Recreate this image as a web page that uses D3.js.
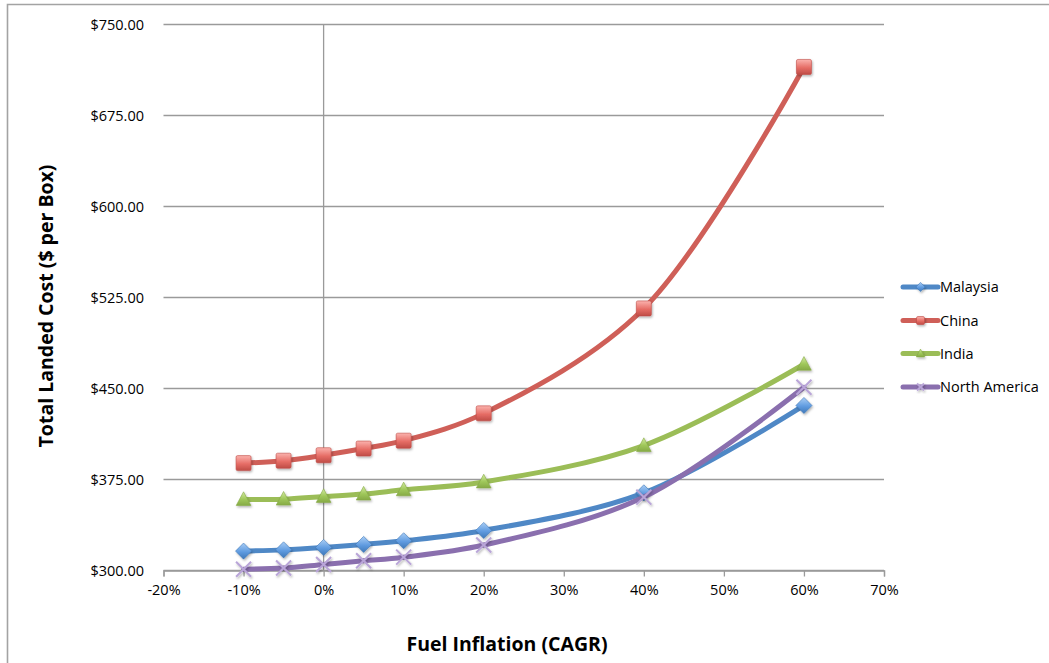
<!DOCTYPE html>
<html>
<head>
<meta charset="utf-8">
<script src="https://cdn.jsdelivr.net/npm/d3@7/dist/d3.min.js"></script>
<style>
  html, body { margin: 0; padding: 0; background: #fff; }
  svg { display: block; }
  text { font-family: "Open Sans", "DejaVu Sans", sans-serif; fill: #000; }
</style>
</head>
<body>
<svg id="chart" width="1049" height="663"></svg>
<script>
// Fuel inflation scenarios (CAGR, %)
const inflation = [-10, -5, 0, 5, 10, 20, 40, 60];

// Total landed cost per box for each sourcing region
const malaysia     = [316, 317, 319, 321.5, 324.5, 333, 364, 436];
const china        = [388.5, 390.5, 395, 400.5, 407, 429.5, 516, 715];
const india        = [358.5, 358.8, 361, 363, 366.5, 373, 403, 470];
const northAmerica = [301, 302, 305, 308, 311, 321, 360.5, 451];

const seriesNames = ["Malaysia", "China", "India", "North America"];
const xTicks = [-20, -10, 0, 10, 20, 30, 40, 50, 60, 70];
const yTicks = [300, 375, 450, 525, 600, 675, 750];

const styles = {
  "Malaysia":      { line: "#4f88c6", fill: "#5f9be0", hi: "#a9cdf5", edge: "#3f78b8", marker: "diamond" },
  "China":         { line: "#cf5f58", fill: "#e66d66", hi: "#fbb3ae", edge: "#bf4c46", marker: "square" },
  "India":         { line: "#9bbd57", fill: "#9fc75a", hi: "#d2ea9f", edge: "#86aa46", marker: "triangle" },
  "North America": { line: "#8a6fae", fill: "#b9a5d8", hi: "#d8cbee", edge: "#a38cc8", marker: "x" }
};

const values = { "Malaysia": malaysia, "China": china, "India": india, "North America": northAmerica };

const svg = d3.select("#chart");
const defs = svg.append("defs");

// soft shadow under markers
const shadow = defs.append("filter").attr("id", "mshadow")
  .attr("x", "-50%").attr("y", "-50%").attr("width", "200%").attr("height", "200%");
shadow.append("feDropShadow").attr("dx", 1).attr("dy", 1.5).attr("stdDeviation", 1.2)
  .attr("flood-color", "#000").attr("flood-opacity", 0.3);

seriesNames.forEach((name, i) => {
  const s = styles[name];
  const g = defs.append("linearGradient").attr("id", "grad" + i)
    .attr("x1", 0).attr("y1", 0).attr("x2", 0).attr("y2", 1);
  g.append("stop").attr("offset", "0%").attr("stop-color", s.hi);
  g.append("stop").attr("offset", "55%").attr("stop-color", s.fill);
  g.append("stop").attr("offset", "100%").attr("stop-color", s.edge);
});

// outer chart frame
svg.append("path")
  .attr("d", "M7.5,663 L7.5,4.5 L1049,4.5")
  .attr("fill", "none").attr("stroke", "#a3a3a3").attr("stroke-width", 1.6);

const x = d3.scaleLinear().domain([-20, 70]).range([163.5, 884]);
const y = d3.scaleLinear().domain([300, 750]).range([570.5, 24.5]);

// horizontal gridlines
svg.append("g").selectAll("line").data(yTicks).join("line")
  .attr("x1", x(-20)).attr("x2", x(70))
  .attr("y1", d => y(d)).attr("y2", d => y(d))
  .attr("stroke", "#9a9a9a").attr("stroke-width", 1.3);

// value axis crossing at 0%
svg.append("line")
  .attr("x1", x(0)).attr("x2", x(0)).attr("y1", y(750)).attr("y2", y(300))
  .attr("stroke", "#9a9a9a").attr("stroke-width", 1.3);

// category axis with ticks
const xAxis = d3.axisBottom(x).tickValues(xTicks).tickSize(6).tickPadding(6)
  .tickFormat(d => d + "%");
const gx = svg.append("g").attr("transform", `translate(0,${y(300)})`).call(xAxis);
gx.attr("font-size", null).attr("font-family", null);
gx.select(".domain").attr("stroke", "#9a9a9a").attr("stroke-width", 1.3);
gx.selectAll(".tick line").attr("stroke", "#9a9a9a").attr("stroke-width", 1.3);
gx.selectAll("text").attr("font-size", 14.5).attr("dy", "0.85em").attr("fill", "#000");

// value tick labels
svg.append("g").selectAll("text").data(yTicks).join("text")
  .attr("x", 144).attr("y", d => y(d)).attr("dy", "0.35em")
  .attr("text-anchor", "end").attr("font-size", 14.5)
  .text(d => "$" + d3.format(".2f")(d));

// axis titles
svg.append("text")
  .attr("transform", "translate(53,306) rotate(-90)")
  .attr("text-anchor", "middle").attr("font-size", 19.5).attr("font-weight", "bold")
  .text("Total Landed Cost ($ per Box)");
svg.append("text")
  .attr("x", 507).attr("y", 651)
  .attr("text-anchor", "middle").attr("font-size", 19.5).attr("font-weight", "bold")
  .text("Fuel Inflation (CAGR)");

// marker shapes
function drawMarker(g, type, cx, cy, size, i) {
  const s = styles[seriesNames[i]];
  const h = size / 2;
  if (type === "diamond") {
    g.append("path").attr("d", `M${cx},${cy - h * 1.15} L${cx + h * 1.15},${cy} L${cx},${cy + h * 1.15} L${cx - h * 1.15},${cy} Z`)
      .attr("fill", `url(#grad${i})`).attr("stroke", s.edge).attr("stroke-width", 0.6)
      .attr("filter", "url(#mshadow)");
  } else if (type === "square") {
    g.append("rect").attr("x", cx - h).attr("y", cy - h).attr("width", size).attr("height", size)
      .attr("rx", 1.5)
      .attr("fill", `url(#grad${i})`).attr("stroke", s.edge).attr("stroke-width", 0.6)
      .attr("filter", "url(#mshadow)");
  } else if (type === "triangle") {
    g.append("path").attr("d", `M${cx},${cy - h * 1.1} L${cx + h * 1.05},${cy + h * 0.85} L${cx - h * 1.05},${cy + h * 0.85} Z`)
      .attr("fill", `url(#grad${i})`).attr("stroke", s.edge).attr("stroke-width", 0.6)
      .attr("filter", "url(#mshadow)");
  } else {
    g.append("path").attr("d", `M${cx - h},${cy - h} L${cx + h},${cy + h} M${cx - h},${cy + h} L${cx + h},${cy - h}`)
      .attr("stroke", s.fill).attr("stroke-width", 2).attr("fill", "none")
      .attr("filter", "url(#mshadow)");
  }
}

const line = d3.line()
  .x(d => x(d[0])).y(d => y(d[1]))
  .curve(d3.curveCatmullRom.alpha(0.5));

seriesNames.forEach((name, i) => {
  const s = styles[name];
  const pts = inflation.map((v, j) => [v, values[name][j]]);
  const g = svg.append("g");
  g.append("path").datum(pts).attr("d", line)
    .attr("fill", "none").attr("stroke", s.line).attr("stroke-width", 5)
    .attr("stroke-linecap", "round").attr("stroke-linejoin", "round");
  const size = s.marker === "x" ? 15 : (s.marker === "square" ? 15 : 14);
  pts.forEach(p => drawMarker(g, s.marker, x(p[0]), y(p[1]), size, i));
});

// legend
const legendY = [287, 320.5, 353.5, 387];
seriesNames.forEach((name, i) => {
  const s = styles[name];
  const g = svg.append("g");
  g.append("line").attr("x1", 903).attr("x2", 938).attr("y1", legendY[i]).attr("y2", legendY[i])
    .attr("stroke", s.line).attr("stroke-width", 5).attr("stroke-linecap", "round");
  drawMarker(g, s.marker, 920.5, legendY[i], s.marker === "x" ? 7 : 8, i);
  g.append("text").attr("x", 940).attr("y", legendY[i]).attr("dy", "0.35em")
    .attr("font-size", 14.5).text(name);
});
</script>
</body>
</html>
